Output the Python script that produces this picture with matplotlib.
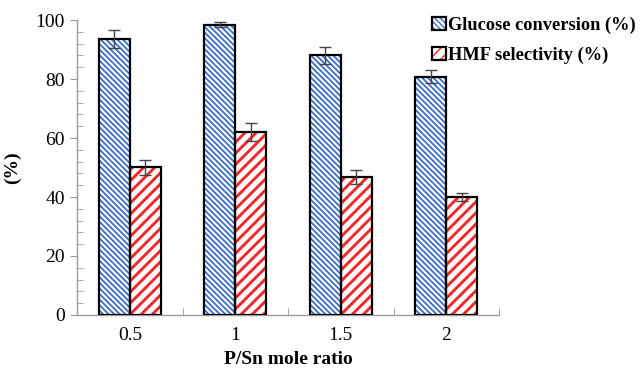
import numpy as np
import matplotlib
matplotlib.use("Agg")
import matplotlib.pyplot as plt
from matplotlib.ticker import MultipleLocator

# data
ratios = ["0.5", "1", "1.5", "2"]
glucose_conv = [93.5, 98.4, 88.0, 80.8]
glucose_err = [3.0, 0.8, 2.9, 2.2]
hmf_sel = [50.1, 62.1, 46.8, 40.0]
hmf_err = [2.6, 3.0, 2.3, 1.2]

plt.rcParams["font.family"] = ["Liberation Serif", "DejaVu Serif"]

fig = plt.figure(figsize=(6.43, 3.71), dpi=100)
ax = fig.add_axes([0.12, 0.151, 0.656, 0.795])

x = np.arange(len(ratios))
w = 0.295
blue = "#3b6fc4"
red = "#f02a2a"

with plt.rc_context({"hatch.linewidth": 1.3}):
    b1 = ax.bar(x - w / 2, glucose_conv, w, color="white", edgecolor=blue,
                hatch="\\\\\\\\\\\\", linewidth=0, zorder=2)
with plt.rc_context({"hatch.linewidth": 2.1}):
    b2 = ax.bar(x + w / 2, hmf_sel, w, color="white", edgecolor=red,
                hatch="///", linewidth=0, zorder=2)
o1 = ax.bar(x - w / 2, glucose_conv, w, fill=False, edgecolor="black",
            linewidth=1.6, zorder=3)
o2 = ax.bar(x + w / 2, hmf_sel, w, fill=False, edgecolor="black",
            linewidth=1.6, zorder=3)
ax.errorbar(x - w / 2, glucose_conv, yerr=glucose_err, fmt="none",
            ecolor="#444444", elinewidth=1, capsize=4, capthick=1, zorder=4)
ax.errorbar(x + w / 2, hmf_sel, yerr=hmf_err, fmt="none",
            ecolor="#444444", elinewidth=1, capsize=4, capthick=1, zorder=4)

ax.set_xlim(-0.5, len(ratios) - 0.5)
ax.set_ylim(0, 100)
ax.set_xticks(x)
ax.set_xticklabels(ratios)
ax.set_xticks(np.arange(len(ratios) + 1) - 0.5, minor=True)
ax.tick_params(axis="x", which="major", length=0, labelsize=14, pad=9)
ax.tick_params(axis="x", which="minor", length=5, direction="in", color="#999999")
ax.yaxis.set_major_locator(MultipleLocator(20))
ax.yaxis.set_minor_locator(MultipleLocator(4))
ax.tick_params(axis="y", which="major", length=5, direction="out", color="#999999",
               labelsize=14, pad=4)
ax.tick_params(axis="y", which="minor", length=4, direction="in", color="#999999")

for s in ["top", "right"]:
    ax.spines[s].set_visible(False)
for s in ["left", "bottom"]:
    ax.spines[s].set_color("#999999")
    ax.spines[s].set_linewidth(1)

ax.set_xlabel("P/Sn mole ratio", fontsize=14, fontweight="bold", labelpad=5)
ax.set_ylabel("(%)", fontsize=14, fontweight="bold", labelpad=10)

fig.legend([(b1[0], o1[0]), (b2[0], o2[0])],
           ["Glucose conversion (%)", "HMF selectivity (%)"],
           loc="upper left", bbox_to_anchor=(0.646, 1.0), frameon=False,
           prop={"weight": "bold", "size": 13.2}, handlelength=0.75,
           handleheight=0.75, handletextpad=0.15, labelspacing=0.7)

fig.savefig("out.png", dpi=100)
